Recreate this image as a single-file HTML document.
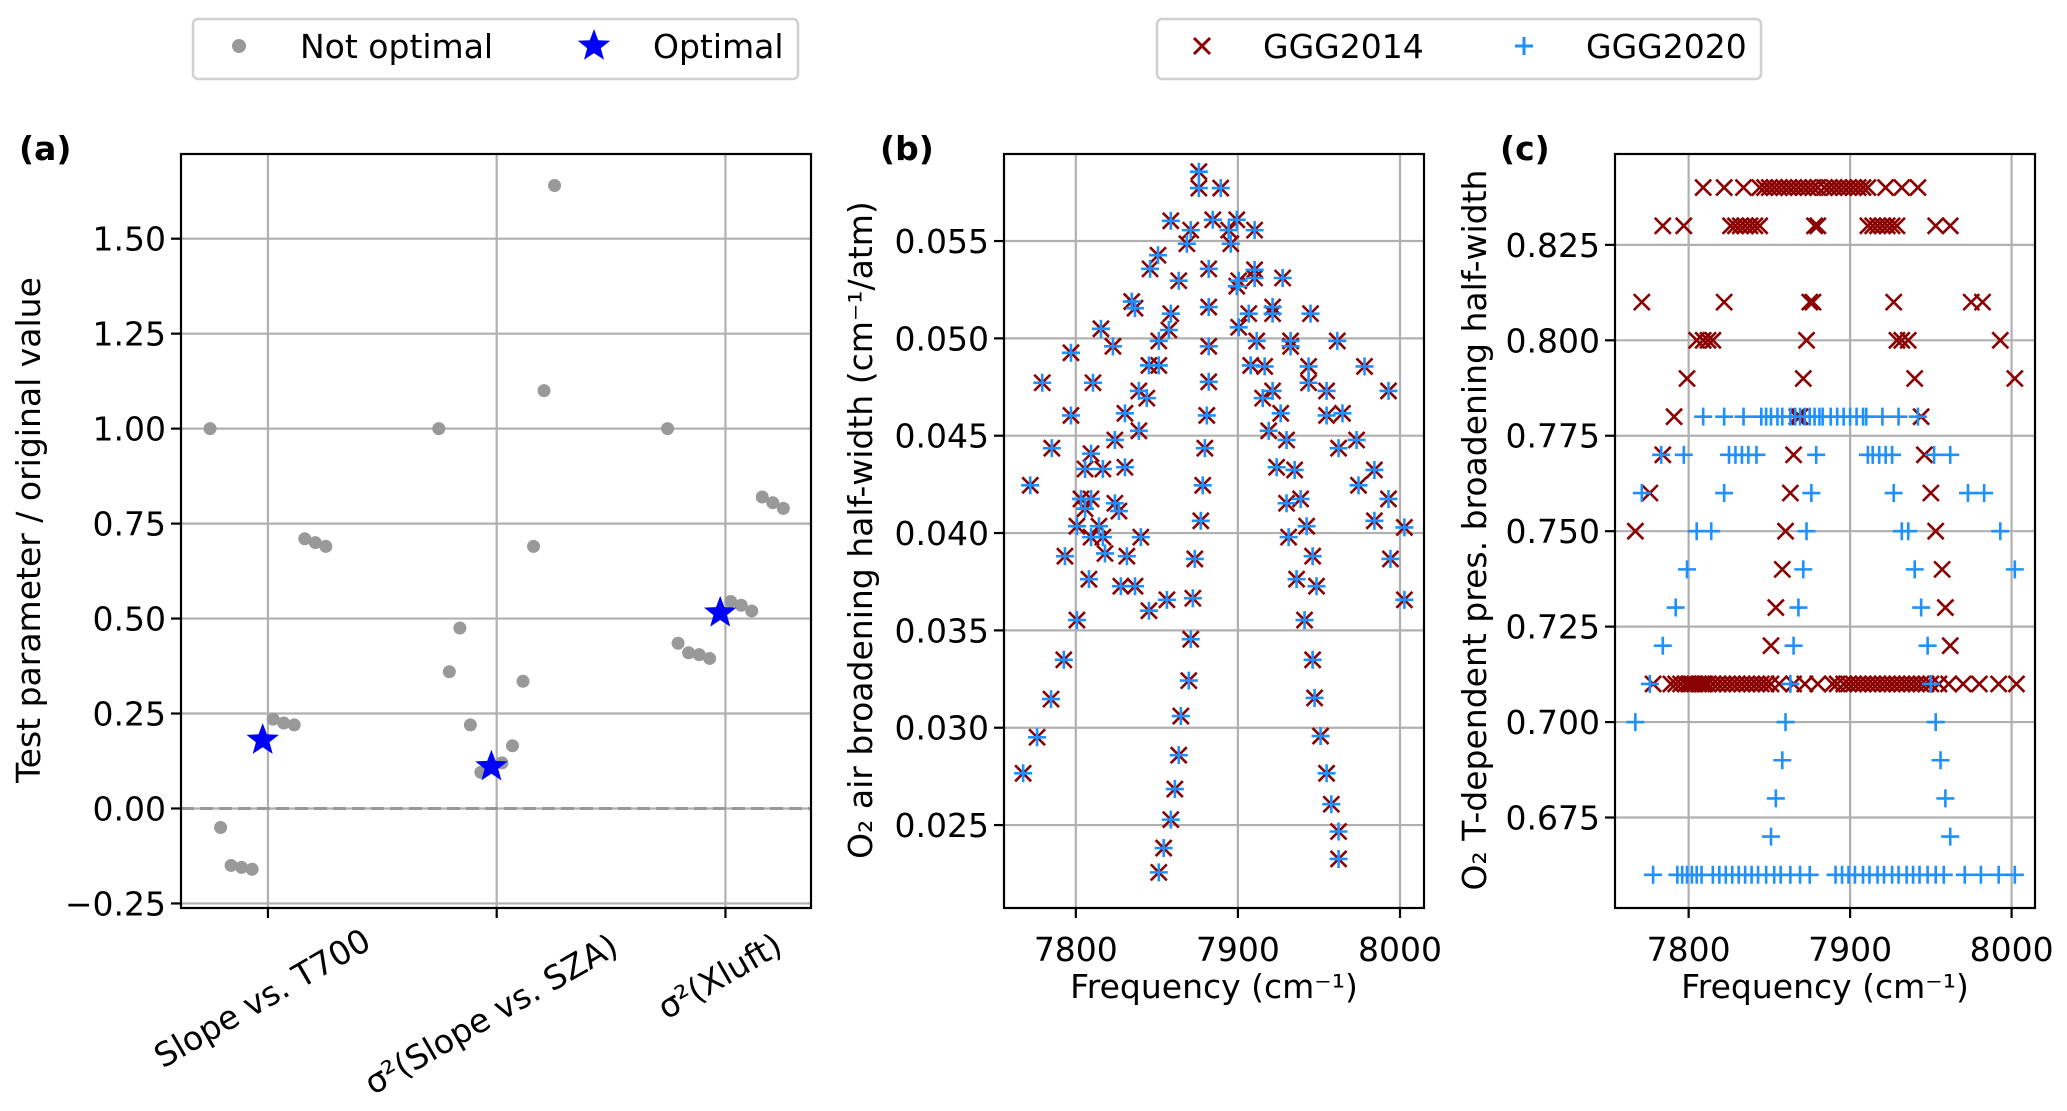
<!DOCTYPE html>
<html><head><meta charset="utf-8"><style>
html,body{margin:0;padding:0;background:#fff;}
svg{display:block;font-family:"DejaVu Sans","Liberation Sans",sans-serif;}
</style></head><body>
<svg id="fig" width="2067" height="1111" viewBox="0 0 2067 1111" xmlns="http://www.w3.org/2000/svg">
<rect width="2067" height="1111" fill="#fff"/>
<g>
<rect x="193" y="19" width="605" height="60" rx="5" fill="#fff" stroke="#d0d0d0" stroke-width="2.5"/>
<circle cx="239" cy="46" r="7" fill="#999"/>
<text x="300" y="58" font-size="33">Not optimal</text>
<polygon id="legstar" fill="#0000ff"/>
<text x="653" y="58" font-size="33">Optimal</text>
</g>
<g>
<rect x="1157" y="19" width="604" height="60" rx="5" fill="#fff" stroke="#d0d0d0" stroke-width="2.5"/>
<path d="M1194,38 L1210,54 M1210,38 L1194,54" stroke="#8b0000" stroke-width="3"/>
<text x="1263" y="58" font-size="33">GGG2014</text>
<path d="M1515,46 L1533,46 M1524,37 L1524,55" stroke="#1e90ff" stroke-width="3"/>
<text x="1586" y="58" font-size="33">GGG2020</text>
</g>
<text x="19" y="160" font-size="33" font-weight="bold">(a)</text>
<text x="880" y="160" font-size="33" font-weight="bold">(b)</text>
<text x="1500" y="160" font-size="33" font-weight="bold">(c)</text>
<text transform="translate(40,530) rotate(-90)" text-anchor="middle" font-size="33">Test parameter / original value</text>
<text transform="translate(872,530) rotate(-90)" text-anchor="middle" font-size="33">O₂ air broadening half-width (cm⁻¹/atm)</text>
<text transform="translate(1486,530) rotate(-90)" text-anchor="middle" font-size="33">O₂ T-dependent pres. broadening half-width</text>
<text x="1214" y="998" text-anchor="middle" font-size="33">Frequency (cm⁻¹)</text>
<text x="1825" y="998" text-anchor="middle" font-size="33">Frequency (cm⁻¹)</text>
<g id="pa"></g>
<g id="pb"></g>
<g id="pc"></g>
</svg>
<script>
// ---------- Panel (a) data ----------
const catLabels = ["Slope vs. T700", "σ²(Slope vs. SZA)", "σ²(Xluft)"];
const valsT700 = [1.00, -0.05, -0.15, -0.155, -0.16, null, 0.235, 0.225, 0.22, 0.71, 0.70, 0.69];
const valsSZA = [1.00, 0.36, 0.475, 0.22, 0.095, null, 0.12, 0.165, 0.335, 0.69, 1.10, 1.64];
const valsXluft = [1.00, 0.435, 0.41, 0.405, 0.395, null, 0.545, 0.535, 0.52, 0.82, 0.805, 0.79];
const optimalVals = [0.18, 0.11, 0.515];
const yTicksA = [-0.25, 0, 0.25, 0.5, 0.75, 1.0, 1.25, 1.5];
const yTickLabelsA = ["−0.25", "0.00", "0.25", "0.50", "0.75", "1.00", "1.25", "1.50"];

// ---------- Panel (b) data ----------
const freqB = [7875.9,7875.9,7889.4,7858.6,7884.5,7899.3,7910.3,7870.9,7894.3,7868.5,7895.6,7850.7,7845.8,7863.5,7882.0,7900.5,7910.3,7910.3,7927.6,7899.3,
7834.5,7836.5,7858.6,7906.7,7921.4,7921.4,7882.0,7944.8,7857.4,7900.5,7815.5,7822.9,7882.0,7911.6,7932.5,7932.5,7961.3,7797.0,7851.2,
7779.3,7810.6,7845.1,7851.2,7882.0,7907.9,7916.5,7943.6,7943.6,7978.1,7838.9,7843.8,7915.3,7921.4,7954.7,7992.9,
7797.0,7830.3,7880.8,7926.4,7954.7,7964.5,7785.2,7824.1,7838.9,7919.0,7930.0,7962.1,7973.2,7879.6,
7809.4,7805.7,7816.7,7830.3,7923.9,7935.0,7984.2,7771.9,7803.2,7809.4,7824.1,7826.6,7878.3,7930.0,7938.7,7974.4,7992.9,
7805.7,7800.7,7814.3,7809.4,7816.7,7840.1,7877.1,7931.3,7942.4,7984.2,8002.7,7793.3,7818.0,7831.5,7873.4,7946.1,7994.1,
7808.1,7827.8,7836.5,7845.1,7856.2,7872.2,7936.2,7948.5,8002.7,7800.7,7870.9,7941.1,7792.6,7869.7,7946.1,7784.7,7864.8,7947.3,
7776.1,7863.5,7951.0,7767.5,7861.1,7954.7,7858.6,7957.6,7854.2,7962.1,7851.2,7962.1];
const widthB2014 = [0.05856,0.05772,0.05772,0.05604,0.05609,0.05609,0.05556,0.05556,0.05556,0.05486,0.05486,0.05427,0.05357,0.05296,0.05357,0.05296,0.05352,0.05310,0.05310,0.05268,
0.05189,0.05155,0.05127,0.05127,0.05161,0.05127,0.05161,0.05127,0.05043,0.05057,0.05049,0.04959,0.04959,0.04987,0.04987,0.04959,0.04987,0.04926,0.04987,
0.04772,0.04772,0.04861,0.04861,0.04777,0.04861,0.04856,0.04856,0.04772,0.04856,0.04730,0.04693,0.04693,0.04730,0.04730,0.04730,
0.04604,0.04615,0.04604,0.04615,0.04604,0.04615,0.04436,0.04478,0.04525,0.04525,0.04478,0.04436,0.04478,0.04436,
0.04408,0.04329,0.04329,0.04338,0.04338,0.04324,0.04324,0.04245,0.04175,0.04175,0.04153,0.04113,0.04245,0.04153,0.04175,0.04245,0.04175,
0.04125,0.04035,0.04035,0.03979,0.03979,0.03979,0.04063,0.03979,0.04035,0.04063,0.04029,0.03881,0.03895,0.03881,0.03867,0.03881,0.03867,
0.03763,0.03727,0.03727,0.03601,0.03657,0.03665,0.03763,0.03727,0.03657,0.03553,0.03455,0.03553,0.03349,0.03242,0.03349,0.03147,0.03060,0.03153,
0.02951,0.02859,0.02957,0.02766,0.02685,0.02766,0.02528,0.02607,0.02382,0.02467,0.02257,0.02326];
const widthB2020 = [0.05856,0.05772,0.05772,0.05604,0.05609,0.05609,0.05556,0.05556,0.05556,0.05486,0.05486,0.05427,0.05357,0.05296,0.05357,0.05296,0.05352,0.05310,0.05310,0.05268,
0.05189,0.05155,0.05127,0.05127,0.05161,0.05127,0.05161,0.05127,0.05043,0.05057,0.05049,0.04959,0.04959,0.04987,0.04987,0.04959,0.04987,0.04926,0.04987,
0.04772,0.04772,0.04861,0.04861,0.04777,0.04861,0.04856,0.04856,0.04772,0.04856,0.04730,0.04693,0.04693,0.04730,0.04730,0.04730,
0.04604,0.04615,0.04604,0.04615,0.04604,0.04615,0.04436,0.04478,0.04525,0.04525,0.04478,0.04436,0.04478,0.04436,
0.04408,0.04329,0.04329,0.04338,0.04338,0.04324,0.04324,0.04245,0.04175,0.04175,0.04153,0.04113,0.04245,0.04153,0.04175,0.04245,0.04175,
0.04125,0.04035,0.04035,0.03979,0.03979,0.03979,0.04063,0.03979,0.04035,0.04063,0.04029,0.03881,0.03895,0.03881,0.03867,0.03881,0.03867,
0.03763,0.03727,0.03727,0.03601,0.03657,0.03665,0.03763,0.03727,0.03657,0.03553,0.03455,0.03553,0.03349,0.03242,0.03349,0.03147,0.03060,0.03153,
0.02951,0.02859,0.02957,0.02766,0.02685,0.02766,0.02528,0.02607,0.02382,0.02467,0.02257,0.02326];
const xTicksF = [7800, 7900, 8000];
const yTicksB = [0.025, 0.030, 0.035, 0.040, 0.045, 0.050, 0.055];
const yTickLabelsB = ["0.025","0.030","0.035","0.040","0.045","0.050","0.055"];

// ---------- Panel (c) data ----------
const freqC2014 = [7809,7822,7834,7844,7847,7850,7853,7856,7859,7862,7865,7868,7871,7874,7877,7880,7884,7887,7890,7893,7896,7899,7902,7905,7908,7911,7922,7932,7942,
7784,7797,7826,7829,7832,7835,7838,7841,7844,7878,7880,7911,7914,7917,7920,7923,7926,7929,7953,7962,
7771,7822,7875,7877,7927,7975,7982,
7805,7809,7812,7815,7873,7929,7932,7936,7993,
7799,7871,7940,8002,
7791,7867,7869,7944,
7784,7865,7946,
7776,7863,7950,
7767,7860,7953,
7858,7957,
7854,7959,
7851,7962,
7778,7789,7792,7795,7798,7800,7802,7804,7806,7808,7810,7812,7815,7818,7821,7824,7827,7830,7833,7836,7839,7842,7845,7848,7851,7856,7865,7872,7880,
7889,7892,7896,7899,7902,7905,7908,7911,7914,7917,7920,7923,7926,7929,7932,7935,7938,7941,7944,7947,7950,7955,7961,7970,7980,7992,8003];
const valC2014 = [0.84,0.84,0.84,0.84,0.84,0.84,0.84,0.84,0.84,0.84,0.84,0.84,0.84,0.84,0.84,0.84,0.84,0.84,0.84,0.84,0.84,0.84,0.84,0.84,0.84,0.84,0.84,0.84,0.84,
0.83,0.83,0.83,0.83,0.83,0.83,0.83,0.83,0.83,0.83,0.83,0.83,0.83,0.83,0.83,0.83,0.83,0.83,0.83,0.83,
0.81,0.81,0.81,0.81,0.81,0.81,0.81,
0.80,0.80,0.80,0.80,0.80,0.80,0.80,0.80,0.80,
0.79,0.79,0.79,0.79,
0.78,0.78,0.78,0.78,
0.77,0.77,0.77,
0.76,0.76,0.76,
0.75,0.75,0.75,
0.74,0.74,
0.73,0.73,
0.72,0.72,
0.71,0.71,0.71,0.71,0.71,0.71,0.71,0.71,0.71,0.71,0.71,0.71,0.71,0.71,0.71,0.71,0.71,0.71,0.71,0.71,0.71,0.71,0.71,0.71,0.71,0.71,0.71,0.71,0.71,
0.71,0.71,0.71,0.71,0.71,0.71,0.71,0.71,0.71,0.71,0.71,0.71,0.71,0.71,0.71,0.71,0.71,0.71,0.71,0.71,0.71,0.71,0.71,0.71,0.71,0.71,0.71];
const freqC2020 = [7809,7822,7834,7845,7848,7851,7855,7858,7863,7866,7869,7872,7875,7878,7881,7883,7888,7892,7896,7900,7904,7908,7910,7920,7930,7942,
7783,7797,7825,7829,7833,7837,7842,7879,7911,7914,7918,7922,7926,7952,7962,
7771,7822,7876,7927,7973,7983,
7805,7814,7873,7932,7936,7993,
7799,7871,7940,8002,
7792,7868,7944,
7784,7865,7948,
7776,7863,7950,
7767,7860,7953,
7858,7956,
7854,7959,
7851,7962,
7778,7793,7796,7799,7802,7805,7808,7815,7819,7823,7827,7831,7835,7839,7843,7848,7853,7857,7863,7869,7875,
7891,7895,7899,7903,7908,7912,7917,7921,7926,7930,7935,7939,7943,7948,7953,7958,7971,7981,7992,8002];
const valC2020 = [0.78,0.78,0.78,0.78,0.78,0.78,0.78,0.78,0.78,0.78,0.78,0.78,0.78,0.78,0.78,0.78,0.78,0.78,0.78,0.78,0.78,0.78,0.78,0.78,0.78,0.78,
0.77,0.77,0.77,0.77,0.77,0.77,0.77,0.77,0.77,0.77,0.77,0.77,0.77,0.77,0.77,
0.76,0.76,0.76,0.76,0.76,0.76,
0.75,0.75,0.75,0.75,0.75,0.75,
0.74,0.74,0.74,0.74,
0.73,0.73,0.73,
0.72,0.72,0.72,
0.71,0.71,0.71,
0.70,0.70,0.70,
0.69,0.69,
0.68,0.68,
0.67,0.67,
0.66,0.66,0.66,0.66,0.66,0.66,0.66,0.66,0.66,0.66,0.66,0.66,0.66,0.66,0.66,0.66,0.66,0.66,0.66,0.66,0.66,
0.66,0.66,0.66,0.66,0.66,0.66,0.66,0.66,0.66,0.66,0.66,0.66,0.66,0.66,0.66,0.66,0.66,0.66,0.66,0.66];
const yTicksC = [0.675, 0.700, 0.725, 0.750, 0.775, 0.800, 0.825];
const yTickLabelsC = ["0.675","0.700","0.725","0.750","0.775","0.800","0.825"];

const NS = "http://www.w3.org/2000/svg";
function mk(tag, attrs, parent) {
  const e = document.createElementNS(NS, tag);
  for (const k in attrs) e.setAttribute(k, attrs[k]);
  parent.appendChild(e);
  return e;
}
function scale(d0, d1, r0, r1) { return v => r0 + (v - d0) / (d1 - d0) * (r1 - r0); }
function starPts(cx, cy, R) {
  const r = R * 0.42; let p = [];
  for (let i = 0; i < 10; i++) {
    const a = -Math.PI / 2 + i * Math.PI / 5, rr = i % 2 ? r : R;
    p.push((cx + rr * Math.cos(a)).toFixed(1) + "," + (cy + rr * Math.sin(a)).toFixed(1));
  }
  return p.join(" ");
}
document.getElementById('legstar').setAttribute('points', starPts(594, 46, 17));

function frame(g, L, R, T, B) {
  const f = mk('rect', {x:L, y:T, width:R-L, height:B-T, fill:'none', stroke:'#000', 'stroke-width':2.2}, g);
  
  
}
function yAxis(g, ys, ticks, labels, L, R, name) {
  ticks.forEach((t, i) => {
    const y = ys(t);
    const gl = mk('line', {x1:L, x2:R, y1:y, y2:y, stroke:'#b0b0b0', 'stroke-width':2.2}, g);
    
    
    mk('line', {x1:L-10, x2:L, y1:y, y2:y, stroke:'#000', 'stroke-width':2.2}, g);
    const tx = mk('text', {x:L-15, y:y+12, 'text-anchor':'end', 'font-size':33}, g);
    tx.textContent = labels[i];
    
    
  });
}
function xAxisF(g, xs, T, B, name) {
  xTicksF.forEach(t => {
    const x = xs(t);
    const gl = mk('line', {x1:x, x2:x, y1:T, y2:B, stroke:'#b0b0b0', 'stroke-width':2.2}, g);
    
    
    mk('line', {x1:x, x2:x, y1:B, y2:B+10, stroke:'#000', 'stroke-width':2.2}, g);
    const tx = mk('text', {x:x, y:961, 'text-anchor':'middle', 'font-size':33}, g);
    tx.textContent = String(t);
    
    
  });
}
function xMark(g, x, y, s, name) {
  const p = mk('path', {d:`M${x-s},${y-s}L${x+s},${y+s}M${x+s},${y-s}L${x-s},${y+s}`, stroke:'#8b0000', 'stroke-width':2.6, fill:'none'}, g);
  
  
}
function plusMark(g, x, y, s, name) {
  const p = mk('path', {d:`M${x-s},${y}L${x+s},${y}M${x},${y-s}L${x},${y+s}`, stroke:'#1e90ff', 'stroke-width':2.6, fill:'none'}, g);
  
  
}

// ---- Panel a ----
(function(){
  const g = document.getElementById('pa');
  const L=181, R=811, T=154, B=908;
  const xs = scale(-0.380, 2.374, L, R), ys = scale(-0.262, 1.723, B, T);
  yAxis(g, ys, yTicksA, yTickLabelsA, L, R, 'y-axis-a');
  const labelCY = [997, 1013, 975];
  catLabels.forEach((c, i) => {
    const x = xs(i);
    const gl = mk('line', {x1:x, x2:x, y1:T, y2:B, stroke:'#b0b0b0', 'stroke-width':2.2}, g);
    
    
    mk('line', {x1:x, x2:x, y1:B, y2:B+10, stroke:'#000', 'stroke-width':2.2}, g);
    const tx = mk('text', {transform:`translate(${x},${labelCY[i]+11}) rotate(-30)`, 'text-anchor':'middle', 'font-size':33}, g);
    tx.textContent = c;
    
    
  });
  const zl = mk('line', {x1:L, x2:R, y1:ys(0), y2:ys(0), stroke:'#999', 'stroke-width':3, 'stroke-dasharray':'13,6'}, g);
  
  
  const series = [valsT700, valsSZA, valsXluft];
  series.forEach((vals, ci) => {
    vals.forEach((v, k) => {
      if (v === null) return;
      const c = mk('circle', {cx: xs(ci - 0.253 + k * 0.046), cy: ys(v), r: 6.5, fill: '#999'}, g);
      
      
    });
  });
  optimalVals.forEach((v, ci) => {
    const s = mk('polygon', {points: starPts(xs(ci - 0.253 + 5 * 0.046), ys(v), 17), fill:'#0000ff'}, g);
    
    
  });
  frame(g, L, R, T, B);
})();

// ---- Panel b ----
(function(){
  const g = document.getElementById('pb');
  const L=1004, R=1424, T=154, B=908;
  const xs = scale(7755.7, 8014.8, L, R), ys = scale(0.02074, 0.05947, B, T);
  yAxis(g, ys, yTicksB, yTickLabelsB, L, R, 'y-axis-b');
  xAxisF(g, xs, T, B, 'x-axis-b');
  freqB.forEach((f, i) => xMark(g, xs(f), ys(widthB2014[i]), 8, 'ggg2014-point-b'));
  freqB.forEach((f, i) => plusMark(g, xs(f), ys(widthB2020[i]), 9, 'ggg2020-point-b'));
  frame(g, L, R, T, B);
})();

// ---- Panel c ----
(function(){
  const g = document.getElementById('pc');
  const L=1615, R=2035, T=154, B=908;
  const xs = scale(7754.4, 8014.5, L, R), ys = scale(0.6513, 0.8488, B, T);
  yAxis(g, ys, yTicksC, yTickLabelsC, L, R, 'y-axis-c');
  xAxisF(g, xs, T, B, 'x-axis-c');
  freqC2014.forEach((f, i) => xMark(g, xs(f), ys(valC2014[i]), 8, 'ggg2014-point-c'));
  freqC2020.forEach((f, i) => plusMark(g, xs(f), ys(valC2020[i]), 9, 'ggg2020-point-c'));
  frame(g, L, R, T, B);
})();
</script>
</body></html>
